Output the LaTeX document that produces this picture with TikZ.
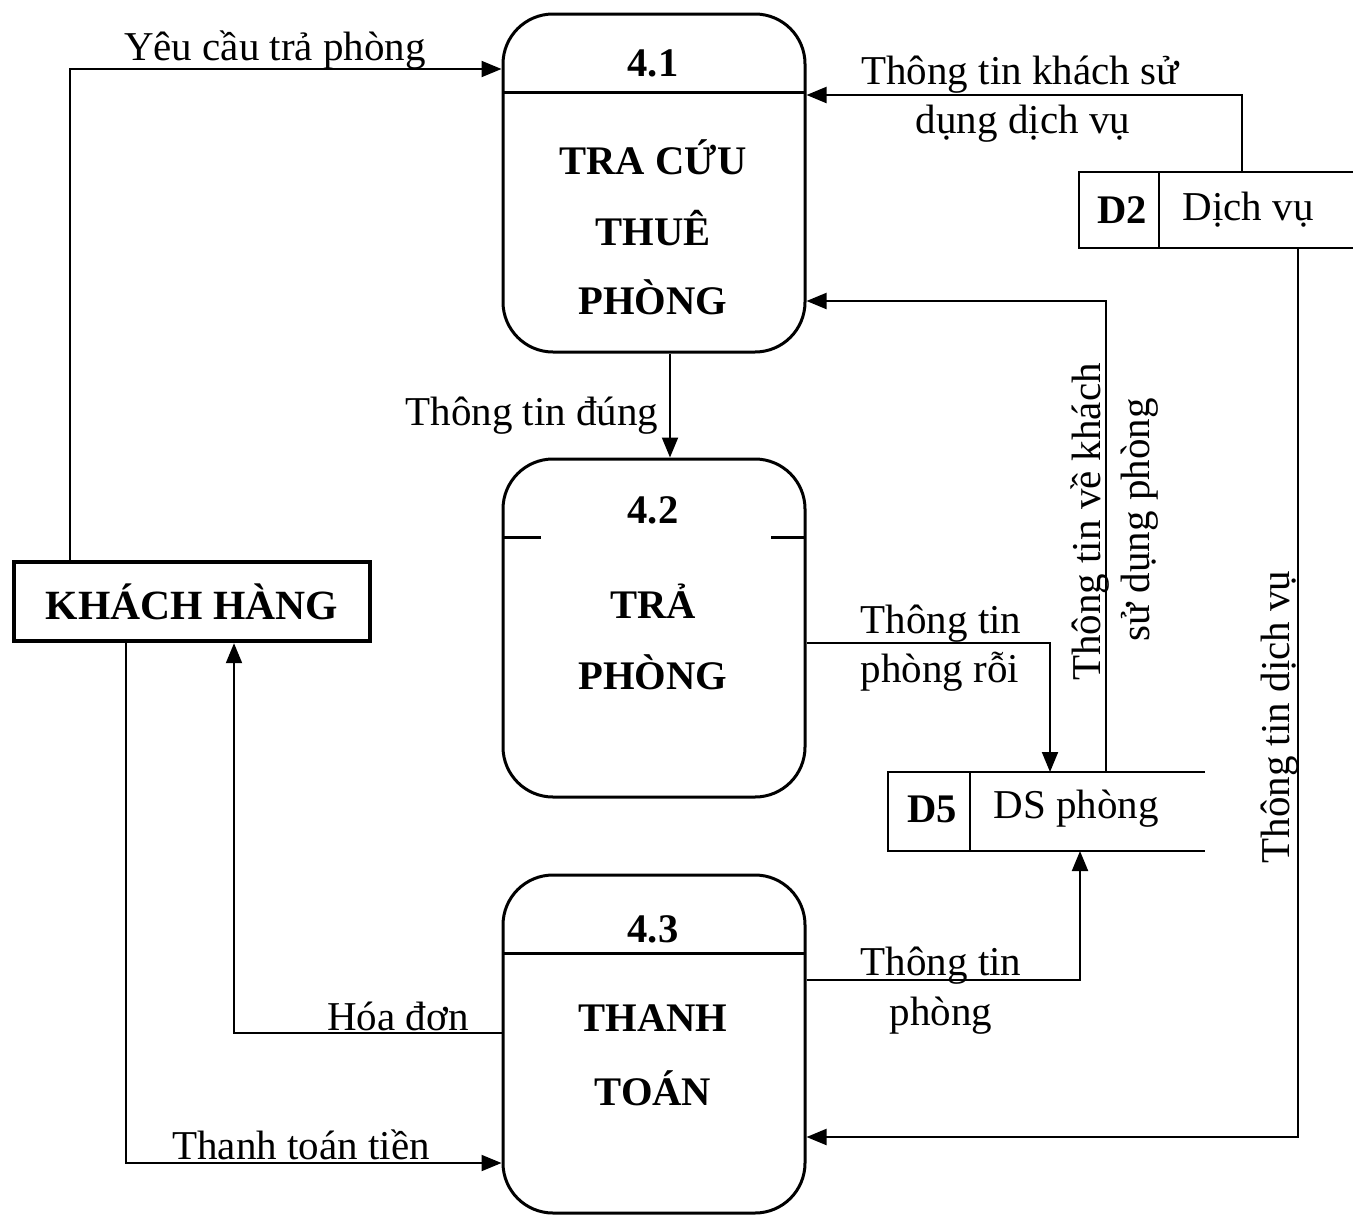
\documentclass[tikz,border=0pt]{standalone}
\usepackage{fontspec}
\setmainfont{Liberation Serif}
\usetikzlibrary{arrows.meta}
\begin{document}
\begin{tikzpicture}[x=0.5pt,y=-0.5pt,
  proc/.style={draw,line width=1.5pt,rounded corners=25pt,minimum width=151pt,minimum height=169pt,inner sep=0pt},
  ptext/.style={font=\fontsize{20.3}{24}\selectfont\bfseries,inner sep=0pt},
  lbl/.style={font=\fontsize{20.5}{24}\selectfont,inner sep=0pt},
  flow/.style={line width=1pt,-{Triangle[length=10pt,width=8pt]}},
  store/.style={line width=1pt}]
\useasboundingbox (0,0) rectangle (1353,1215);
% processes
\node[proc] (p1) at (654,183) {};
\node[proc] (p2) at (654,628) {};
\node[proc] (p3) at (654,1044) {};
\draw[line width=1.5pt] (503,92) -- (805,92);
\draw[line width=1.5pt] (503,537) -- (541,537);
\draw[line width=1.5pt] (771,537) -- (805,537);
\draw[line width=1.5pt] (503,953) -- (805,953);
\node[ptext] (n1) at (653,63) {4.1};
\node[ptext] (t1a) at (653,157) {TRA CỨU};
\node[ptext] (t1b) at (653,228) {THUÊ};
\node[ptext] (t1c) at (653,297) {PHÒNG};
\node[ptext] (n2) at (653,510) {4.2};
\node[ptext] (t2a) at (653,601) {TRẢ};
\node[ptext] (t2b) at (653,672) {PHÒNG};
\node[ptext] (n3) at (653,929) {4.3};
\node[ptext] (t3a) at (653,1018) {THANH};
\node[ptext] (t3b) at (653,1088) {TOÁN};
% external entity
\node[draw,line width=2.2pt,minimum width=178pt,minimum height=39.5pt,inner sep=0pt,font=\fontsize{20.8}{24}\selectfont\bfseries] (kh) at (192,601.5) {KHÁCH HÀNG};
% data stores
\coordinate (d2tl) at (1079,172);
\coordinate (d2bl) at (1079,248);
\draw[store] (1353,172) -- (d2tl) -- (d2bl) -- (1353,248);
\draw[store] (1159,172) -- (1159,248);
\node[ptext] (d2id) at (1122,210) {D2};
\node[lbl] (d2n) at (1248,210) {Dịch vụ};
\coordinate (d5tl) at (888,772);
\coordinate (d5bl) at (888,851);
\draw[store] (1205,772) -- (d5tl) -- (d5bl) -- (1205,851);
\draw[store] (970,772) -- (970,851);
\node[ptext] (d5id) at (932,809) {D5};
\node[lbl] (d5n) at (1076,809) {DS phòng};
% connectors
\draw[flow] (kh.north -| 70,0) |- (p1.west |- 0,69);
\node[lbl] (l1) at (275,50) {Yêu cầu trả phòng};
\draw[flow] (1242,172) |- (p1.east |- 0,95);
\node[lbl] (l2a) at (1020,75) {Thông tin khách sử};
\node[lbl] (l2b) at (1023,124) {dụng dịch vụ};
\draw[flow] (1106,772) |- (p1.east |- 0,301);
\node[lbl,rotate=90] (l3a) at (1090,522) {Thông tin về khách};
\node[lbl,rotate=90] (l3b) at (1140,520) {sử dụng phòng};
\draw[flow] (p1.south -| 670,0) -- (p2.north -| 670,0);
\node[lbl] (l4) at (532,416) {Thông tin đúng};
\draw[flow] (p2.east |- 0,643) -| (1050,772);
\node[lbl] (l5a) at (941,624) {Thông tin};
\node[lbl] (l5b) at (940,672) {phòng rỗi};
\draw[flow] (p3.east |- 0,980) -| (1080,851);
\node[lbl] (l6a) at (941,966) {Thông tin};
\node[lbl] (l6b) at (941,1016) {phòng};
\draw[flow] (1298,248) |- (p3.east |- 0,1137);
\node[lbl,rotate=90] (l7) at (1280,717) {Thông tin dịch vụ};
\draw[flow] (p3.west |- 0,1033) -| (kh.south -| 234,0);
\node[lbl] (l8) at (398,1016) {Hóa đơn};
\draw[flow] (kh.south -| 126,0) |- (p3.west |- 0,1163);
\node[lbl] (l9) at (301,1145) {Thanh toán tiền};
\end{tikzpicture}
\end{document}
